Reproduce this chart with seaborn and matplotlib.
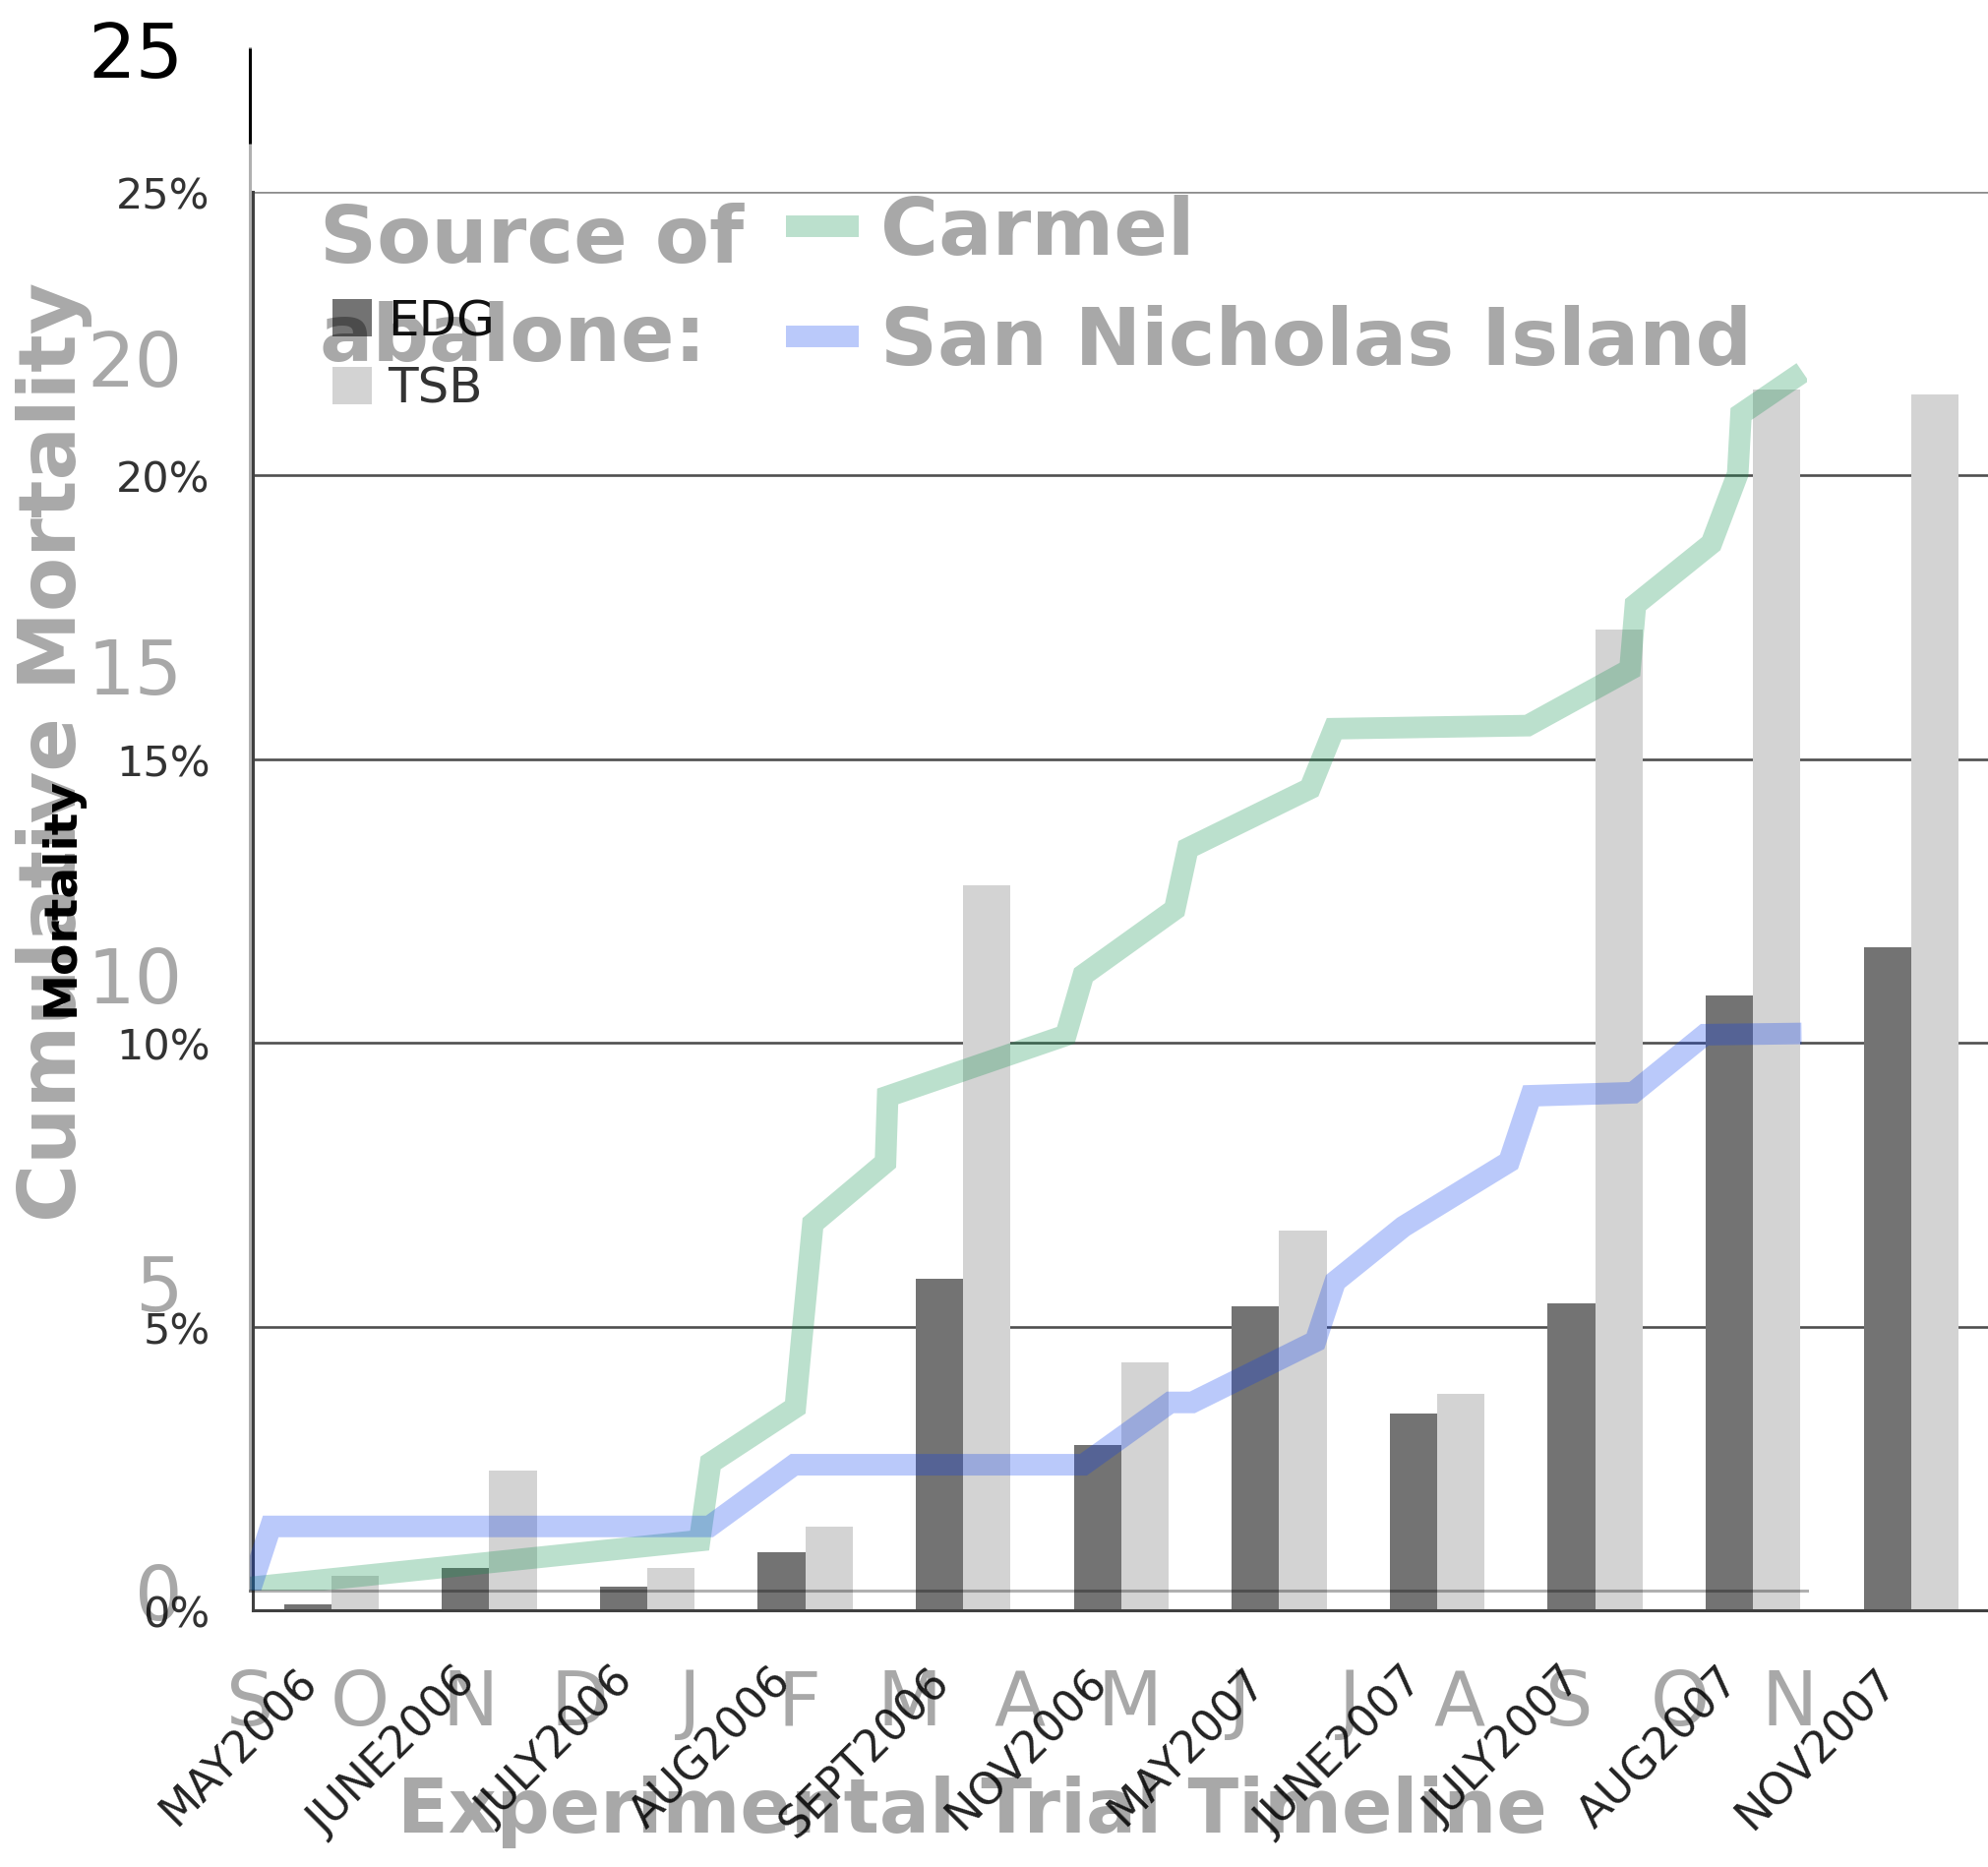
import numpy as np
import pandas as pd
import matplotlib
matplotlib.use("Agg")
import matplotlib.pyplot as plt
import seaborn as sns

# Monthly mortality (%) per rearing facility
trial_months = ["MAY2006", "JUNE2006", "JULY2006", "AUG2006", "SEPT2006", "NOV2006",
                "MAY2007", "JUNE2007", "JULY2007", "AUG2007", "NOV2007"]
facilities = ["EDG", "TSB"]
edg_mortality = [0.11, 0.74, 0.41, 1.02, 5.85, 2.91, 5.36, 3.46, 5.41, 10.83, 11.68]
tsb_mortality = [0.61, 2.46, 0.74, 1.47, 12.77, 4.37, 6.70, 3.81, 17.29, 21.52, 21.42]

# Cumulative mortality by abalone source; x in months counted from September
season_letters = ["S", "O", "N", "D", "J", "F", "M", "A", "M", "J", "J", "A", "S", "O", "N"]
carmel_month = [0.00, 4.09, 4.19, 4.96, 5.02, 5.12, 5.78, 5.80, 7.42, 7.58, 8.41, 8.53,
                9.64, 9.86, 11.62, 12.55, 12.60, 13.29, 13.53, 13.56, 14.12]
carmel_cum = [0.05, 0.81, 2.07, 2.97, 4.11, 5.95, 6.94, 8.01, 9.00, 9.98, 11.04, 12.03,
              13.00, 13.97, 14.02, 14.93, 15.98, 16.97, 18.10, 19.07, 19.75]
sni_month = [0.00, 0.19, 4.18, 4.95, 7.58, 8.37, 8.57, 9.69, 9.87, 10.49, 11.45, 11.65,
             12.58, 13.23, 14.11]
sni_cum = [0.00, 1.04, 1.04, 2.04, 2.04, 3.05, 3.05, 4.04, 5.01, 5.90, 6.95, 8.02,
           8.07, 9.01, 9.03]

W, H, DPI = 2021, 1899, 100

sns.set_style("white")
plt.rcParams["font.family"] = ["DejaVu Sans"]

fig = plt.figure(figsize=(W / DPI, H / DPI), dpi=DPI)


def fx(px):
    return px / W


def fy(py):
    return 1 - py / H


# ---------------- bar chart: monthly mortality ----------------
ax = fig.add_axes([fx(256.5), fy(1638), (2023 - 256.5) / W, (1638 - 196) / H])
bars_df = pd.DataFrame({
    "month": trial_months * 2,
    "facility": ["EDG"] * len(trial_months) + ["TSB"] * len(trial_months),
    "mortality": edg_mortality + tsb_mortality,
})
sns.barplot(data=bars_df, x="month", y="mortality", hue="facility",
            order=trial_months, hue_order=facilities,
            palette={"EDG": "#737373", "TSB": "#d3d3d3"}, saturation=1,
            width=0.6, errorbar=None, linewidth=0, ax=ax)
ax.set_xlim(-0.5, 10.5)
ax.set_ylim(0, 25)
ax.set_axisbelow(True)
ax.yaxis.grid(True, color="#4f4f4f", linewidth=1.9)
ax.xaxis.grid(False)
ax.get_ygridlines()[-1].set_color("#8c8c8c")
for side in ["top", "right"]:
    ax.spines[side].set_visible(False)
for side in ["left", "bottom"]:
    ax.spines[side].set_color("#404040")
    ax.spines[side].set_linewidth(2.2)

ax.set_yticks(range(0, 26, 5))
ax.set_yticklabels([f"{v}%" for v in range(0, 26, 5)])
ax.tick_params(axis="y", length=9.4, width=2.2, color="#404040",
               labelsize=31, labelcolor="#333333", pad=21.6)

# month labels sit slightly left of each bar pair
label_shift = 36 / 160.6
ax.set_xticks(np.arange(len(trial_months)) - label_shift)
ax.set_xticklabels(trial_months)
ax.tick_params(axis="x", which="major", length=0, pad=36, labelsize=32,
               labelcolor="#222222", labelrotation=45)
for lab in ax.get_xticklabels():
    lab.set_rotation(45)
    lab.set_ha("right")
    lab.set_va("top")
    lab.set_rotation_mode("anchor")
ax.set_xticks(np.arange(-0.5, len(trial_months), 1), minor=True)
ax.tick_params(axis="x", which="minor", length=10, width=2.2, color="#404040")
ax.set_xlabel("")

ax.set_ylabel("Mortality", fontsize=34, fontweight="bold", color="black")
ax.yaxis.set_label_coords((62 - 256.5) / (2023 - 256.5), (1638 - 911) / (1638 - 196))
ax.yaxis.label.set_va("center")

handles, labels = ax.get_legend_handles_labels()
leg = ax.legend(handles, labels, loc="upper left",
                bbox_to_anchor=(fx(338), fy(303)), bbox_transform=fig.transFigure,
                frameon=False, fontsize=36, handlelength=0.8, handleheight=0.8,
                handletextpad=0.32, labelspacing=0.42, borderpad=0, borderaxespad=0)
leg.get_texts()[0].set_color("#111111")
leg.get_texts()[1].set_color("#333333")

# ---------------- line chart: cumulative mortality ----------------
ghost = (0, 0, 0, 0.34)
ghost_rule = (0, 0, 0, 0.31)

gx = fig.add_axes([fx(254), fy(1618), (1837 - 254) / W, (1618 - 50) / H])
gx.set_facecolor("none")
sns.lineplot(x=carmel_month, y=carmel_cum, ax=gx, color=(0.055, 0.565, 0.30),
             alpha=0.28, linewidth=15.8, sort=False, estimator=None,
             solid_joinstyle="miter", solid_capstyle="butt", label="Carmel")
sns.lineplot(x=sni_month, y=sni_cum, ax=gx, color=(0.03, 0.24, 0.94),
             alpha=0.28, linewidth=15.8, sort=False, estimator=None,
             solid_joinstyle="miter", solid_capstyle="butt",
             label="San Nicholas Island")
gx.set_xlim(0, 14.16)
gx.set_ylim(0, 25)
gx.grid(False)
for side in ["top", "right"]:
    gx.spines[side].set_visible(False)
for side in ["left", "bottom"]:
    gx.spines[side].set_color(ghost_rule)
    gx.spines[side].set_linewidth(2.2)

gx.set_xticks(range(len(season_letters)))
gx.set_xticklabels(season_letters)
gx.set_yticks(range(0, 26, 5))
gx.tick_params(axis="both", direction="out", length=19.4, width=2.2,
               color=ghost_rule, labelsize=55, labelcolor=ghost)
gx.tick_params(axis="x", pad=37)
gx.tick_params(axis="y", pad=29.5)
gx.get_yticklabels()[-1].set_color("black")
gx.yaxis.get_major_ticks()[-1].tick1line.set_color("black")
gx.plot([0, 0], [23.46, 25], color="black", linewidth=2.2, clip_on=False,
        solid_capstyle="butt")

gx.set_ylabel("Cumulative Mortality", fontsize=58, fontweight="bold", color=ghost)
gx.yaxis.set_label_coords((55 - 254) / (1837 - 254), (1618 - 764) / (1618 - 50))
gx.yaxis.label.set_va("center")
gx.set_xlabel("Experimental Trial Timeline", fontsize=54.5, fontweight="bold",
              color=ghost)
gx.xaxis.set_label_coords((988 - 254) / (1837 - 254), (1618 - 1842) / (1618 - 50))
gx.xaxis.label.set_va("center")

leg2 = gx.legend(loc="upper left", bbox_to_anchor=(fx(799), fy(198)),
                 bbox_transform=fig.transFigure, frameon=False,
                 prop={"size": 58, "weight": "bold"}, handlelength=0.92,
                 handletextpad=0.27, labelspacing=0.42, borderpad=0,
                 borderaxespad=0)
for t in leg2.get_texts():
    t.set_color(ghost)

fig.text(fx(325), fy(267), "Source of", fontsize=58, fontweight="bold",
         color=ghost, ha="left", va="baseline")
fig.text(fx(325), fy(367), "abalone:", fontsize=58, fontweight="bold",
         color=ghost, ha="left", va="baseline")

fig.savefig("out.png", dpi=DPI)
